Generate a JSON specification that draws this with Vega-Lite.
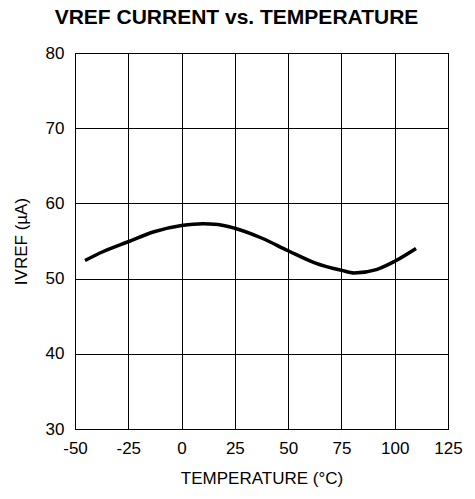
{
  "$schema": "https://vega.github.io/schema/vega-lite/v6.json",
  "width": 373,
  "height": 376,
  "autosize": {"type": "none"},
  "padding": {"left": 75, "top": 53, "right": 27, "bottom": 70},
  "background": "white",
  "title": {
    "text": "VREF CURRENT vs. TEMPERATURE",
    "font": "Liberation Sans",
    "fontSize": 21,
    "fontWeight": "bold",
    "color": "black",
    "anchor": "middle",
    "dx": -25,
    "offset": 16
  },
  "config": {
    "view": {"stroke": "black", "strokeWidth": 1},
    "axis": {
      "labelFont": "Liberation Sans",
      "titleFont": "Liberation Sans",
      "labelFontSize": 17,
      "titleFontSize": 17,
      "labelColor": "black",
      "titleColor": "black",
      "titleFontWeight": "normal",
      "gridColor": "black",
      "gridOpacity": 1,
      "gridWidth": 1,
      "domainColor": "black",
      "domainWidth": 1,
      "ticks": false,
      "labelExpr": "datum.value < 0 ? '-' + abs(datum.value) : '' + datum.value"
    }
  },
  "data": {
    "values": [
      {"t": -45.3, "i": 52.4},
      {"t": -36.7, "i": 53.6},
      {"t": -25, "i": 54.9},
      {"t": -13.3, "i": 56.2},
      {"t": 0, "i": 57.05},
      {"t": 10, "i": 57.3},
      {"t": 17, "i": 57.2},
      {"t": 25, "i": 56.7},
      {"t": 37.5, "i": 55.4},
      {"t": 50, "i": 53.7},
      {"t": 62.5, "i": 52.1},
      {"t": 75, "i": 51.1},
      {"t": 81, "i": 50.75},
      {"t": 91.4, "i": 51.2},
      {"t": 100, "i": 52.3},
      {"t": 110, "i": 54.0}
    ]
  },
  "mark": {"type": "line", "color": "black", "strokeWidth": 3.5, "interpolate": "monotone"},
  "encoding": {
    "x": {
      "field": "t",
      "type": "quantitative",
      "scale": {"domain": [-50, 125], "nice": false},
      "axis": {
        "values": [-50, -25, 0, 25, 50, 75, 100, 125],
        "title": "TEMPERATURE (°C)",
        "labelPadding": 11,
        "titlePadding": 14,
        "labelFlush": false
      }
    },
    "y": {
      "field": "i",
      "type": "quantitative",
      "scale": {"domain": [30, 80], "nice": false},
      "axis": {
        "values": [30, 40, 50, 60, 70, 80],
        "title": "IVREF (µA)",
        "labelPadding": 11,
        "titlePadding": 15,
        "labelFlush": false
      }
    }
  }
}
